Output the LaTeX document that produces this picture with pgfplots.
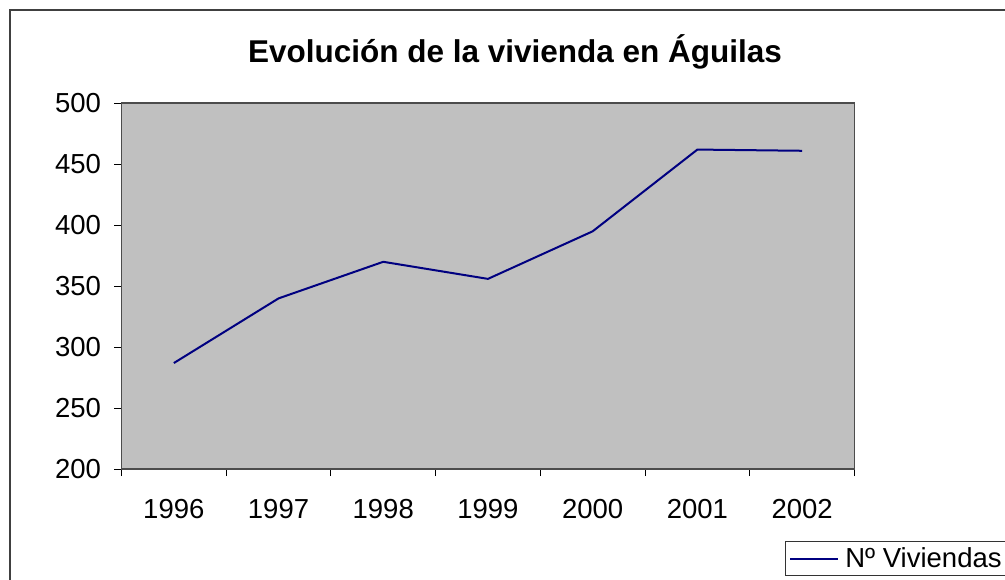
\documentclass[border=0pt]{standalone}
\usepackage{fontspec}
\setmainfont{Liberation Sans}
\usepackage{pgfplots}
\pgfplotsset{compat=1.18}
\definecolor{plotgray}{HTML}{C0C0C0}
\definecolor{navyline}{HTML}{000080}
\begin{document}
\begin{tikzpicture}[x=1pt,y=1pt]
\useasboundingbox (0,0) rectangle (1005,579);
\clip (0,0) rectangle (1005,579);
\fill[white] (0,0) rectangle (1005,579);
\draw[line width=1.5pt, black!75] (10,-20) rectangle (1030,569);
\node[font=\bfseries\fontsize{31.5}{36}\selectfont] at (515,527) {Evolución de la vivienda en Águilas};
\begin{axis}[
    at={(116,90)}, anchor=south west,
    scale only axis, width=733pt, height=366pt,
    xmin=-0.5, xmax=6.5, ymin=200, ymax=500,
    ytick={200,250,...,500},
    xtick={0,...,6},
    xticklabels={1996,1997,1998,1999,2000,2001,2002},
    major x tick style={draw=none},
    minor xtick={-0.5,0.5,...,6.5},
    xtick pos=bottom, ytick pos=left,
    tick align=outside,
    major tick length=7pt, minor tick length=7pt,
    tick style={black, line width=1pt},
    axis background/.style={fill=plotgray},
    axis line style={draw=black!70, line width=1.5pt},
    ticklabel style={font=\fontsize{27.5}{32}\selectfont},
    /pgf/number format/assume math mode=true,
    xticklabel style={yshift=-20pt},
    yticklabel style={xshift=-10pt},
    legend style={at={(0.905,-0.197)}, anchor=north west, draw=black!80, line width=1pt,
        font=\fontsize{27.5}{32}\selectfont, inner sep=4pt, overlay},
    legend cell align=left,
    legend image code/.code={\draw[#1] (0pt,0pt) -- (48pt,0pt);},
]
\addplot[navyline, line width=2pt] coordinates {
    (0,287) (1,340) (2,370) (3,356) (4,395) (5,462) (6,461)
};
\addlegendentry{\hspace{4pt}Nº Viviendas}
\end{axis}
\end{tikzpicture}
\end{document}
